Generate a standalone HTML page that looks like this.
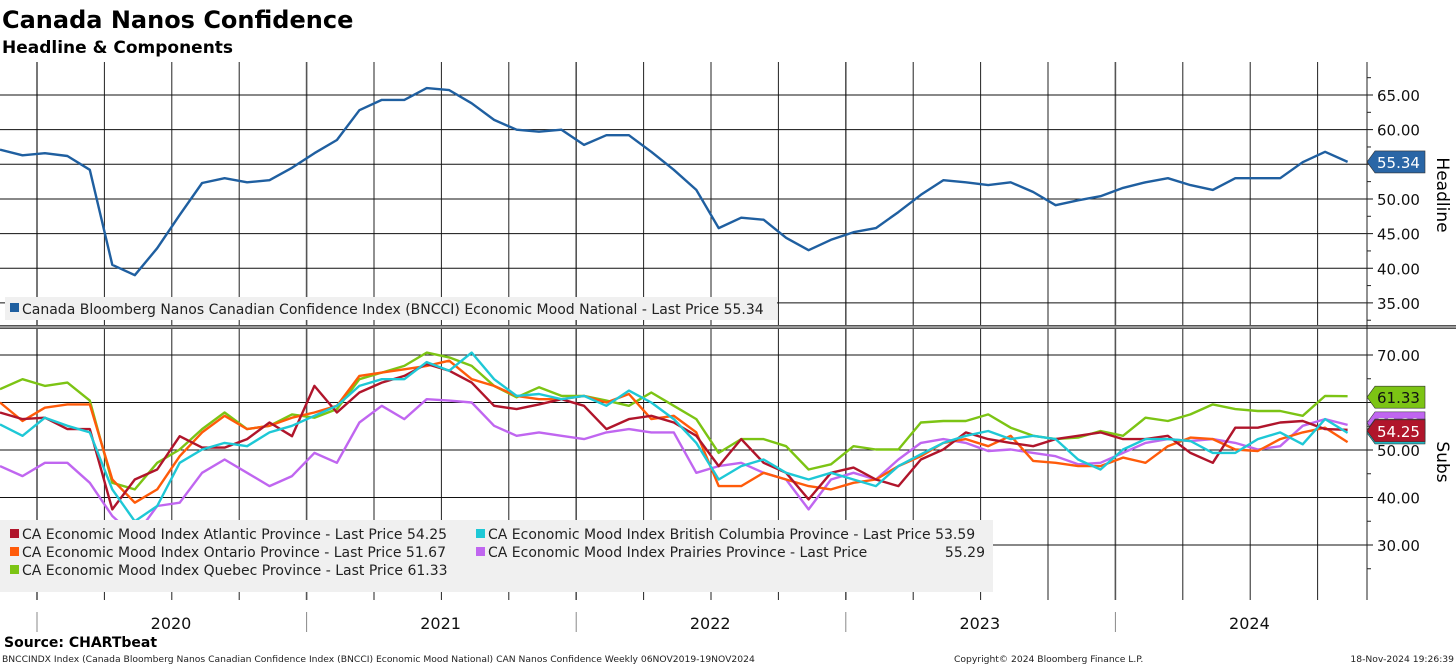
<!DOCTYPE html>
<html><head><meta charset="utf-8"><style>
body{margin:0;background:#fff;}
svg{display:block;font-family:"DejaVu Sans","Liberation Sans",sans-serif;}
</style></head><body>
<svg id="c" width="1456" height="666" viewBox="0 0 1456 666" xmlns="http://www.w3.org/2000/svg">
<text x="2" y="28" font-size="24" font-weight="bold">Canada Nanos Confidence</text>
<text x="2" y="53" font-size="17" font-weight="bold">Headline &amp; Components</text>
<g id="grid"></g>
<g id="lines"></g>
<g id="axes"></g>
<rect x="5" y="297" width="772" height="23" fill="#f0f0f0"/>
<rect x="10" y="303" width="9" height="9" fill="#1f5fa0"/>
<text x="22" y="314" font-size="14" fill="#222">Canada Bloomberg Nanos Canadian Confidence Index (BNCCI) Economic Mood National - Last Price 55.34</text>
<g id="leg2"></g>
<text x="1437" y="195" font-size="17" transform="rotate(90 1437 195)" text-anchor="middle">Headline</text>
<text x="1437" y="462" font-size="17" transform="rotate(90 1437 462)" text-anchor="middle">Subs</text>
<text x="4" y="647" font-size="14" font-weight="bold">Source: CHARTbeat</text>
<text x="2" y="662" font-size="9.2" fill="#222">BNCCINDX Index (Canada Bloomberg Nanos Canadian Confidence Index (BNCCI) Economic Mood National) CAN Nanos Confidence  Weekly 06NOV2019-19NOV2024</text>
<text x="954" y="662" font-size="9.2" fill="#222">Copyright© 2024 Bloomberg Finance L.P.</text>
<text x="1454" y="662" font-size="9.2" fill="#222" text-anchor="end">18-Nov-2024 19:26:39</text>
</svg>
<script>
const headline=[57.1,56.3,56.6,56.2,54.2,40.5,39.0,42.9,47.7,52.3,53.0,52.4,52.7,54.5,56.6,58.5,62.8,64.3,64.3,66.0,65.7,63.8,61.4,60.0,59.7,60.0,57.8,59.2,59.2,56.8,54.2,51.3,45.8,47.3,47.0,44.4,42.6,44.1,45.2,45.8,48.1,50.6,52.7,52.4,52.0,52.4,51.0,49.1,49.8,50.4,51.6,52.4,53.0,52.0,51.3,53.0,53.0,53.0,55.3,56.8,55.34];
const quebec=[62.8,64.9,63.5,64.2,60.4,43.1,41.7,47.3,50.1,54.4,57.9,54.4,55.1,57.5,56.8,58.6,64.9,66.3,67.7,70.5,69.5,67.7,63.5,61.1,63.2,61.4,61.4,60.4,59.3,62.1,59.3,56.5,49.4,52.3,52.3,50.8,45.9,47.0,50.8,50.1,50.1,55.8,56.1,56.1,57.5,54.7,53.0,52.3,52.6,54.0,53.0,56.8,56.1,57.5,59.6,58.6,58.2,58.2,57.2,61.4,61.33];
const ontario=[60.0,56.1,58.9,59.6,59.6,43.8,38.9,41.7,48.7,53.7,57.2,54.4,55.1,56.8,57.9,59.3,65.6,66.3,67.0,67.7,68.8,64.9,63.5,61.4,60.7,60.7,61.4,60.0,61.8,56.5,57.2,53.7,42.4,42.4,45.2,43.8,42.4,41.7,43.1,43.8,46.6,48.7,51.5,52.3,50.8,53.0,47.7,47.3,46.6,46.6,48.4,47.3,50.8,52.6,52.3,50.1,49.8,52.3,53.7,54.7,51.67];
const atlantic=[57.9,56.5,56.8,54.4,54.4,37.5,43.8,45.9,52.9,50.5,50.5,52.3,55.8,52.9,63.5,57.9,62.1,64.2,65.6,68.1,66.7,64.2,59.3,58.6,59.6,60.7,59.3,54.4,56.5,57.2,55.8,53.0,46.6,52.3,47.3,45.2,39.6,45.2,46.3,43.8,42.4,48.0,50.1,53.7,52.3,51.5,50.8,52.3,53.0,53.7,52.3,52.3,53.0,49.4,47.3,54.7,54.7,55.8,56.1,54.4,54.25];
const bc=[55.4,53.0,56.8,55.1,53.7,41.7,35.0,38.2,47.3,50.1,51.5,50.8,53.7,55.1,57.2,59.3,63.5,64.9,64.9,68.5,66.7,70.5,64.9,61.4,61.8,60.7,61.4,59.3,62.5,60.0,56.5,51.5,43.8,46.6,48.0,45.2,43.8,45.2,43.8,42.4,46.6,49.1,51.5,53.0,54.0,52.3,53.0,52.3,48.0,45.9,50.1,52.3,52.3,51.9,49.4,49.4,52.3,53.7,51.2,56.5,53.59];
const prairies=[46.6,44.5,47.3,47.3,43.1,36.1,31.8,38.2,38.9,45.2,48.0,45.2,42.4,44.5,49.4,47.3,55.8,59.3,56.5,60.7,60.4,60.0,55.1,53.0,53.7,53.0,52.3,53.7,54.4,53.7,53.7,45.2,46.6,47.3,45.2,43.8,37.5,43.8,45.2,43.8,48.0,51.5,52.3,51.5,49.8,50.1,49.4,48.7,47.0,47.3,49.4,51.5,52.3,51.9,52.3,51.5,50.1,50.8,55.1,56.5,55.29];
const topTicks=[35,40,45,50,55,60,65];
const subTicks=[30,40,50,60,70];
const years=["2020","2021","2022","2023","2024"];
const NS="http://www.w3.org/2000/svg";
function mk(p,tag,a){const e=document.createElementNS(NS,tag);for(const k in a)e.setAttribute(k,a[k]);p.appendChild(e);return e;}
const X=i=>i*22.46;
const Yt=v=>95+(65-v)*6.93;
const Ys=v=>355+(70-v)*4.75;
const R=1367;
const grid=document.getElementById('grid'),lines=document.getElementById('lines'),axes=document.getElementById('axes');
for(let k=0;k<20;k++){const x=37+k*67.4;
 const l=mk(grid,'line',{x1:x,x2:x,y1:62,y2:600,stroke:k%4==0?'#555':'#222','stroke-width':k%4==0?1.6:1});
 
 }
topTicks.forEach(v=>{const y=Yt(v);
 const l=mk(grid,'line',{x1:0,x2:R+6,y1:y,y2:y,stroke:'#111','stroke-width':1});
 
 
 const t=mk(axes,'text',{x:1377,y:y+6,'font-size':15,fill:'#111'});t.textContent=v.toFixed(2);
 
 });
subTicks.forEach(v=>{const y=Ys(v);
 const l=mk(grid,'line',{x1:0,x2:R+6,y1:y,y2:y,stroke:'#111','stroke-width':1});
 
 
 const t=mk(axes,'text',{x:1377,y:y+6,'font-size':15,fill:'#111'});t.textContent=v.toFixed(2);
 
 });
mk(axes,'rect',{x:0,y:325,width:1456,height:4,fill:'#555'});
mk(axes,'line',{x1:0,x2:1456,y1:327,y2:327,stroke:'#ddd','stroke-width':1});
mk(axes,'line',{x1:R,x2:R,y1:62,y2:600,stroke:'#222','stroke-width':1});
[32.5,37.5,42.5,47.5,52.5,57.5,62.5,67.5].forEach(v=>mk(axes,'line',{x1:R,x2:R+4,y1:Yt(v),y2:Yt(v),stroke:'#222'}));
[25,35,45,55,65].forEach(v=>mk(axes,'line',{x1:R,x2:R+4,y1:Ys(v),y2:Ys(v),stroke:'#222'}));
years.forEach((y,k)=>{const x0=37+k*269.6;
 mk(axes,'line',{x1:x0,x2:x0,y1:612,y2:632,stroke:'#888'});
 const t=mk(axes,'text',{x:x0+134,y:629,'font-size':16,'text-anchor':'middle',fill:'#111'});t.textContent=y;
 
 });
function draw(arr,Y,col,name){
 const d=arr.map((v,i)=>(i?'L':'M')+X(i).toFixed(1)+' '+Y(v).toFixed(1)).join(' ');
 const p=mk(lines,'path',{d:d,fill:'none',stroke:col,'stroke-width':2.4,'stroke-linejoin':'round'});
 
 }
draw(headline,Yt,'#1f5fa0','headline-line');
draw(prairies,Ys,'#c066f0','prairies-line');
draw(quebec,Ys,'#7cc414','quebec-line');
draw(ontario,Ys,'#ff5b0a','ontario-line');
draw(atlantic,Ys,'#b0152b','atlantic-line');
draw(bc,Ys,'#1ec8d6','bc-line');
function tag(v,y,col,txt,name){
 const g=mk(axes,'g',{});
 mk(g,'path',{d:`M${R} ${y} L${R+8} ${y-11} L${R+58} ${y-11} L${R+58} ${y+11} L${R+8} ${y+11} Z`,fill:col,stroke:'#333','stroke-width':0.6});
 const t=mk(g,'text',{x:R+10,y:y+6,'font-size':15,fill:txt});t.textContent=v.toFixed(2);
 
 }
tag(headline[60],Yt(headline[60]),'#2a66a6','#fff','headline-last-value');
tag(prairies[60],Ys(prairies[60])-2,'#c066f0','#fff','prairies-last-value');
tag(bc[60],Ys(bc[60]),'#1ec8d6','#fff','bc-last-value');
tag(ontario[60],Ys(ontario[60])-12,'#ff5b0a','#222','ontario-last-value');
tag(atlantic[60],Ys(atlantic[60])+1,'#b0152b','#fff','atlantic-last-value');
tag(quebec[60],Ys(quebec[60])+1,'#7cc414','#111','quebec-last-value');
const leg=document.getElementById('leg2');
mk(leg,'rect',{x:0,y:520,width:993,height:72,fill:'#f0f0f0'});
const L=[[10,538,'#b0152b','CA Economic Mood Index Atlantic Province - Last Price 54.25'],
[10,556,'#ff5b0a','CA Economic Mood Index Ontario Province - Last Price 51.67'],
[10,574,'#7cc414','CA Economic Mood Index Quebec Province - Last Price 61.33'],
[476,538,'#1ec8d6','CA Economic Mood Index British Columbia Province - Last Price 53.59'],
[476,556,'#c066f0','CA Economic Mood Index Prairies Province - Last Price']];
L.forEach(e=>{mk(leg,'rect',{x:e[0],y:e[1]-9,width:9,height:9,fill:e[2]});
 const t=mk(leg,'text',{x:e[0]+12,y:e[1]+1,'font-size':14,fill:'#222'});t.textContent=e[3];
 
 });
const t5=mk(leg,'text',{x:985,y:557,'font-size':14,fill:'#222','text-anchor':'end'});t5.textContent='55.29';


</script>
</body></html>
